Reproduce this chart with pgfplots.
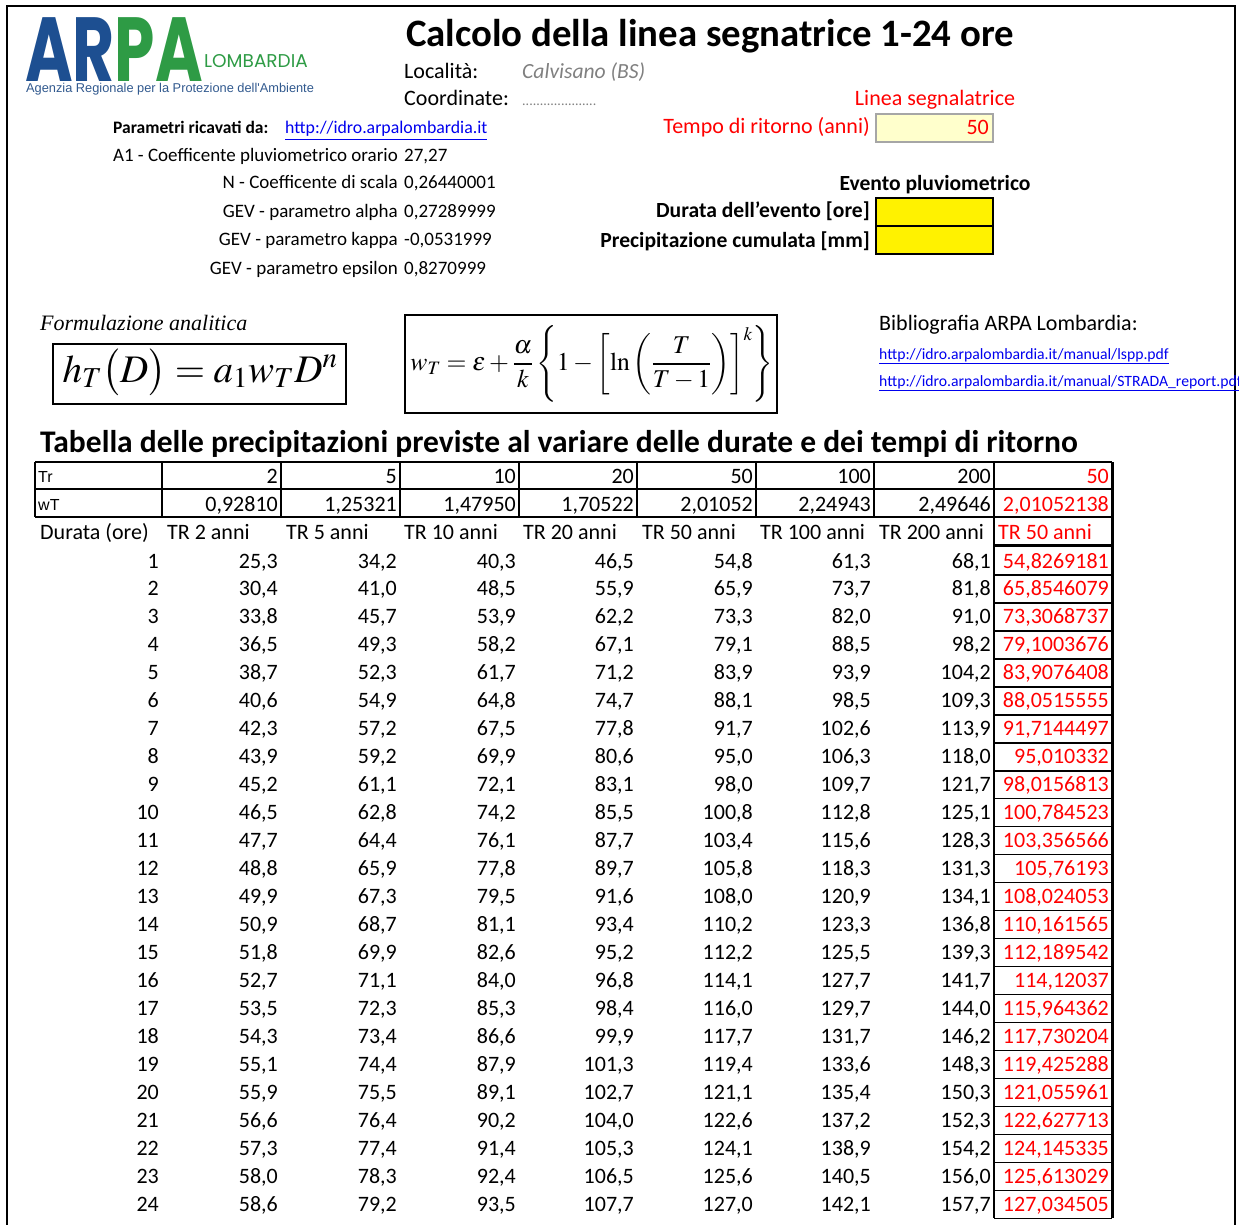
\documentclass[border=0pt]{standalone}
\usepackage{amsmath}
\usepackage{mathptmx}
\usepackage[no-math]{fontspec}
\setmainfont{Carlito}
\newfontfamily\serif{Liberation Serif}
\newfontfamily\arial{Liberation Sans}
\newfontfamily\logofont{Poppins}
\usepackage{pgfplots}
\pgfplotsset{compat=1.18}
\usepackage{pgfplotstable}

\definecolor{xlred}{HTML}{FF0000}
\definecolor{xlblue}{HTML}{0000EE}
\definecolor{arpablue}{HTML}{1D4F91}
\definecolor{arpagreen}{HTML}{2E9B45}
\definecolor{lightyel}{HTML}{FFFFCC}
\definecolor{cellgray}{HTML}{A6A6A6}
\definecolor{txtgray}{HTML}{808080}

\newcommand\fs[1]{\fontsize{#1}{#1}\selectfont}

% precipitazioni [mm] per durata (ore) e tempo di ritorno
\pgfplotstableread{
d  tra  trb  trc  trd   tre   trf   trg   trr
1  25.3 34.2 40.3 46.5  54.8  61.3  68.1  54,8269181
2  30.4 41.0 48.5 55.9  65.9  73.7  81.8  65,8546079
3  33.8 45.7 53.9 62.2  73.3  82.0  91.0  73,3068737
4  36.5 49.3 58.2 67.1  79.1  88.5  98.2  79,1003676
5  38.7 52.3 61.7 71.2  83.9  93.9  104.2 83,9076408
6  40.6 54.9 64.8 74.7  88.1  98.5  109.3 88,0515555
7  42.3 57.2 67.5 77.8  91.7  102.6 113.9 91,7144497
8  43.9 59.2 69.9 80.6  95.0  106.3 118.0 95,010332
9  45.2 61.1 72.1 83.1  98.0  109.7 121.7 98,0156813
10 46.5 62.8 74.2 85.5  100.8 112.8 125.1 100,784523
11 47.7 64.4 76.1 87.7  103.4 115.6 128.3 103,356566
12 48.8 65.9 77.8 89.7  105.8 118.3 131.3 105,76193
13 49.9 67.3 79.5 91.6  108.0 120.9 134.1 108,024053
14 50.9 68.7 81.1 93.4  110.2 123.3 136.8 110,161565
15 51.8 69.9 82.6 95.2  112.2 125.5 139.3 112,189542
16 52.7 71.1 84.0 96.8  114.1 127.7 141.7 114,12037
17 53.5 72.3 85.3 98.4  116.0 129.7 144.0 115,964362
18 54.3 73.4 86.6 99.9  117.7 131.7 146.2 117,730204
19 55.1 74.4 87.9 101.3 119.4 133.6 148.3 119,425288
20 55.9 75.5 89.1 102.7 121.1 135.4 150.3 121,055961
21 56.6 76.4 90.2 104.0 122.6 137.2 152.3 122,627713
22 57.3 77.4 91.4 105.3 124.1 138.9 154.2 124,145335
23 58.0 78.3 92.4 106.5 125.6 140.5 156.0 125,613029
24 58.6 79.2 93.5 107.7 127.0 142.1 157.7 127,034505
}\rain

% Tr e wT per colonna (xr = bordo destro della cella)
\pgfplotstableread{
xr  tr  wt
278 2   0.92810
397 5   1.25321
516 10  1.47950
634 20  1.70522
753 50  2.01052
871 100 2.24943
991 200 2.49646
}\hdr

\pgfplotsset{
  cell/.style={only marks, mark=none, point meta=explicit,
    nodes near coords={\pgfmathprintnumber[fixed,fixed zerofill,precision=#1,use comma,assume math mode=true]{\pgfplotspointmeta}},
    nodes near coords style={anchor=base east, inner sep=0pt, font=\fs{22}}},
  table/rowy/.style={y expr=568+27.97*(\thisrow{d}-1)},
}

\begin{document}
\begin{tikzpicture}
\begin{axis}[name=ax, scale only axis, width=1239pt, height=1225pt,
  xmin=0, xmax=1239, ymin=0, ymax=1225, y dir=reverse,
  hide axis, clip=false]

% cornice
\draw[line width=2.5pt] (7,1225) -- (7,6) -- (1235,6) -- (1235,1225);

% logo
\node[anchor=base west, inner sep=0, text depth=0pt, xscale=0.71, font=\logofont\bfseries\fs{91}] at (25,82)
  {\textcolor{arpablue}{AR}\textcolor{arpagreen}{PA}};
\node[anchor=base west, inner sep=0, text=arpagreen, font=\logofont\fs{18.5}] at (204,68) {LOMBARDIA};
\node[anchor=base west, inner sep=0, text=arpablue!80!gray, font=\arial\fs{12.8}] at (26,93)
  {Agenzia Regionale per la Protezione dell'Ambiente};

% intestazione
\node[anchor=base west, inner sep=0, font=\bfseries\fs{38.8}] at (406,47) {Calcolo della linea segnatrice 1-24 ore};
\node[anchor=base west, inner sep=0, font=\fs{22}] at (404,79) {Località:};
\node[anchor=base west, inner sep=0, font=\itshape\fs{21.6}, text=txtgray] at (522,79) {Calvisano (BS)};
\node[anchor=base west, inner sep=0, font=\fs{22}] at (404,106) {Coordinate:};
\node[anchor=base west, inner sep=0, font=\fs{14}, text=txtgray] at (522,106) {.....................};

\node[anchor=base, inner sep=0, font=\fs{22}, text=xlred] at (935,106) {Linea segnalatrice};
\node[anchor=base east, inner sep=0, font=\fs{22}, text=xlred] at (870,134) {Tempo di ritorno (anni)};
\draw[fill=lightyel, draw=cellgray, line width=2.5pt] (876,114) rectangle (993,142);
\node[anchor=base east, inner sep=0, font=\fs{22}, text=xlred] at (989,135) {50};

% parametri
\node[anchor=base west, inner sep=0, font=\bfseries\fs{17.5}] at (113,134) {Parametri ricavati da:};
\node[anchor=base west, inner sep=0, font=\fs{17.8}, text=xlblue] at (285,134) {\underline{http://idro.arpalombardia.it}};
\node[anchor=base east, inner sep=0, font=\fs{19}] at (398,162) {A1 - Coefficente pluviometrico orario};
\node[anchor=base east, inner sep=0, font=\fs{19}] at (398,189) {N - Coefficente di scala};
\node[anchor=base east, inner sep=0, font=\fs{19}] at (398,218) {GEV - parametro alpha};
\node[anchor=base east, inner sep=0, font=\fs{19}] at (398,245) {GEV - parametro kappa};
\node[anchor=base east, inner sep=0, font=\fs{19}] at (398,274) {GEV - parametro epsilon};
\node[anchor=base west, inner sep=0, font=\fs{19}] at (404,162) {27,27};
\node[anchor=base west, inner sep=0, font=\fs{19}] at (404,189) {0,26440001};
\node[anchor=base west, inner sep=0, font=\fs{19}] at (404,218) {0,27289999};
\node[anchor=base west, inner sep=0, font=\fs{19}] at (404,245) {-0,0531999};
\node[anchor=base west, inner sep=0, font=\fs{19}] at (404,274) {0,8270999};

% evento
\node[anchor=base, inner sep=0, font=\bfseries\fs{21.6}] at (935,191) {Evento pluviometrico};
\node[anchor=base east, inner sep=0, font=\bfseries\fs{21.6}] at (870,218) {Durata dell'evento [ore]};
\node[anchor=base east, inner sep=0, font=\bfseries\fs{21.6}] at (870,247) {Precipitazione cumulata [mm]};
\draw[fill=yellow, line width=2pt] (876,198) rectangle (993,226);
\draw[fill=yellow, line width=2pt] (876,226) rectangle (993,254);

% formule
\node[anchor=base west, inner sep=0, font=\serif\itshape\fs{22}] at (40,330) {Formulazione analitica};
\draw[line width=1.5pt] (53,344) rectangle (346,404);
\node[font=\fs{39}, inner sep=0, text height=20pt, text depth=8pt] at (200,376) {$h_T\bigl(D\bigr)=a_1 w_T D^n$};
\draw[line width=1.5pt] (405,315) rectangle (777,413);
\node[font=\fs{25.6}, inner sep=0] at (592,364)
  {$w_T=\varepsilon+\dfrac{\alpha}{k}\left\{1-\left[\ln\left(\dfrac{T}{T-1}\right)\right]^k\right\}$};

% bibliografia
\node[anchor=base west, inner sep=0, font=\fs{22}] at (879,330) {Bibliografia ARPA Lombardia:};
\node[anchor=base west, inner sep=0, font=\fs{15.7}, text=xlblue] at (879,359) {\underline{http://idro.arpalombardia.it/manual/lspp.pdf}};
\node[anchor=base west, inner sep=0, font=\fs{15.7}, text=xlblue] at (879,386) {\underline{http://idro.arpalombardia.it/manual/STRADA\_report.pdf}};

% tabella
\node[anchor=base west, inner sep=0, font=\bfseries\fs{31.5}] at (40,452)
  {Tabella delle precipitazioni previste al variare delle durate e dei tempi di ritorno};

\draw[line width=2.2pt] (35,462) -- (1112,462);
\draw[line width=2.2pt] (35,489) -- (1112,489);
\draw[line width=1.2pt] (35,517) -- (1112,517);
\draw[line width=1.2pt] (35,462) -- (35,517);
\draw[line width=1.8pt] (162,462) -- (162,517);
\draw[line width=1.8pt] (281,462) -- (281,517);
\draw[line width=2.4pt] (400,462) -- (400,517);
\draw[line width=2.4pt] (519,462) -- (519,517);
\draw[line width=1.8pt] (637,462) -- (637,517);
\draw[line width=1.8pt] (756,462) -- (756,517);
\draw[line width=1.8pt] (874,462) -- (874,517);
\draw[line width=1.8pt] (994,462) -- (994,1218);
\draw[line width=3pt] (1112,462) -- (1112,1218);
\draw[line width=3pt] (994,545) -- (1112,545);
\pgfplotsinvokeforeach{1,...,24}{
  \draw[line width=1.5pt] (994,{547+27.97*#1}) -- (1112,{547+27.97*#1});
}

\node[anchor=base west, inner sep=0, font=\arial\fs{16}] at (38,482) {Tr};
\node[anchor=base west, inner sep=0, font=\arial\fs{16}] at (38,510) {wT};
\addplot[cell=0] table[x=xr, y expr=483, meta=tr] {\hdr};
\addplot[cell=5] table[x=xr, y expr=511, meta=wt] {\hdr};
\node[anchor=base east, inner sep=0, font=\fs{22}, text=xlred] at (1109,483) {50};
\node[anchor=base east, inner sep=0, font=\fs{22}, text=xlred] at (1109,511) {2,01052138};

\node[anchor=base west, inner sep=0, font=\fs{22}] at (40,539) {Durata (ore)};
\node[anchor=base west, inner sep=0, font=\fs{22}] at (167,539) {TR 2 anni};
\node[anchor=base west, inner sep=0, font=\fs{22}] at (286,539) {TR 5 anni};
\node[anchor=base west, inner sep=0, font=\fs{22}] at (404,539) {TR 10 anni};
\node[anchor=base west, inner sep=0, font=\fs{22}] at (523,539) {TR 20 anni};
\node[anchor=base west, inner sep=0, font=\fs{22}] at (642,539) {TR 50 anni};
\node[anchor=base west, inner sep=0, font=\fs{22}] at (760,539) {TR 100 anni};
\node[anchor=base west, inner sep=0, font=\fs{22}] at (879,539) {TR 200 anni};
\node[anchor=base west, inner sep=0, font=\fs{22}, text=xlred] at (998,539) {TR 50 anni};

\addplot[cell=0] table[x expr=159, rowy, meta=d] {\rain};
\addplot[cell=1] table[x expr=278, rowy, meta=tra] {\rain};
\addplot[cell=1] table[x expr=397, rowy, meta=trb] {\rain};
\addplot[cell=1] table[x expr=516, rowy, meta=trc] {\rain};
\addplot[cell=1] table[x expr=634, rowy, meta=trd] {\rain};
\addplot[cell=1] table[x expr=753, rowy, meta=tre] {\rain};
\addplot[cell=1] table[x expr=871, rowy, meta=trf] {\rain};
\addplot[cell=1] table[x expr=991, rowy, meta=trg] {\rain};
\addplot[only marks, mark=none, point meta=explicit symbolic,
  nodes near coords={\pgfplotspointmeta},
  nodes near coords style={anchor=base east, inner sep=0pt, font=\fs{22}, text=xlred}]
  table[x expr=1109, rowy, meta=trr] {\rain};
\end{axis}
\pgfresetboundingbox
\path (ax.south west) rectangle (ax.north east);
\end{tikzpicture}
\end{document}
